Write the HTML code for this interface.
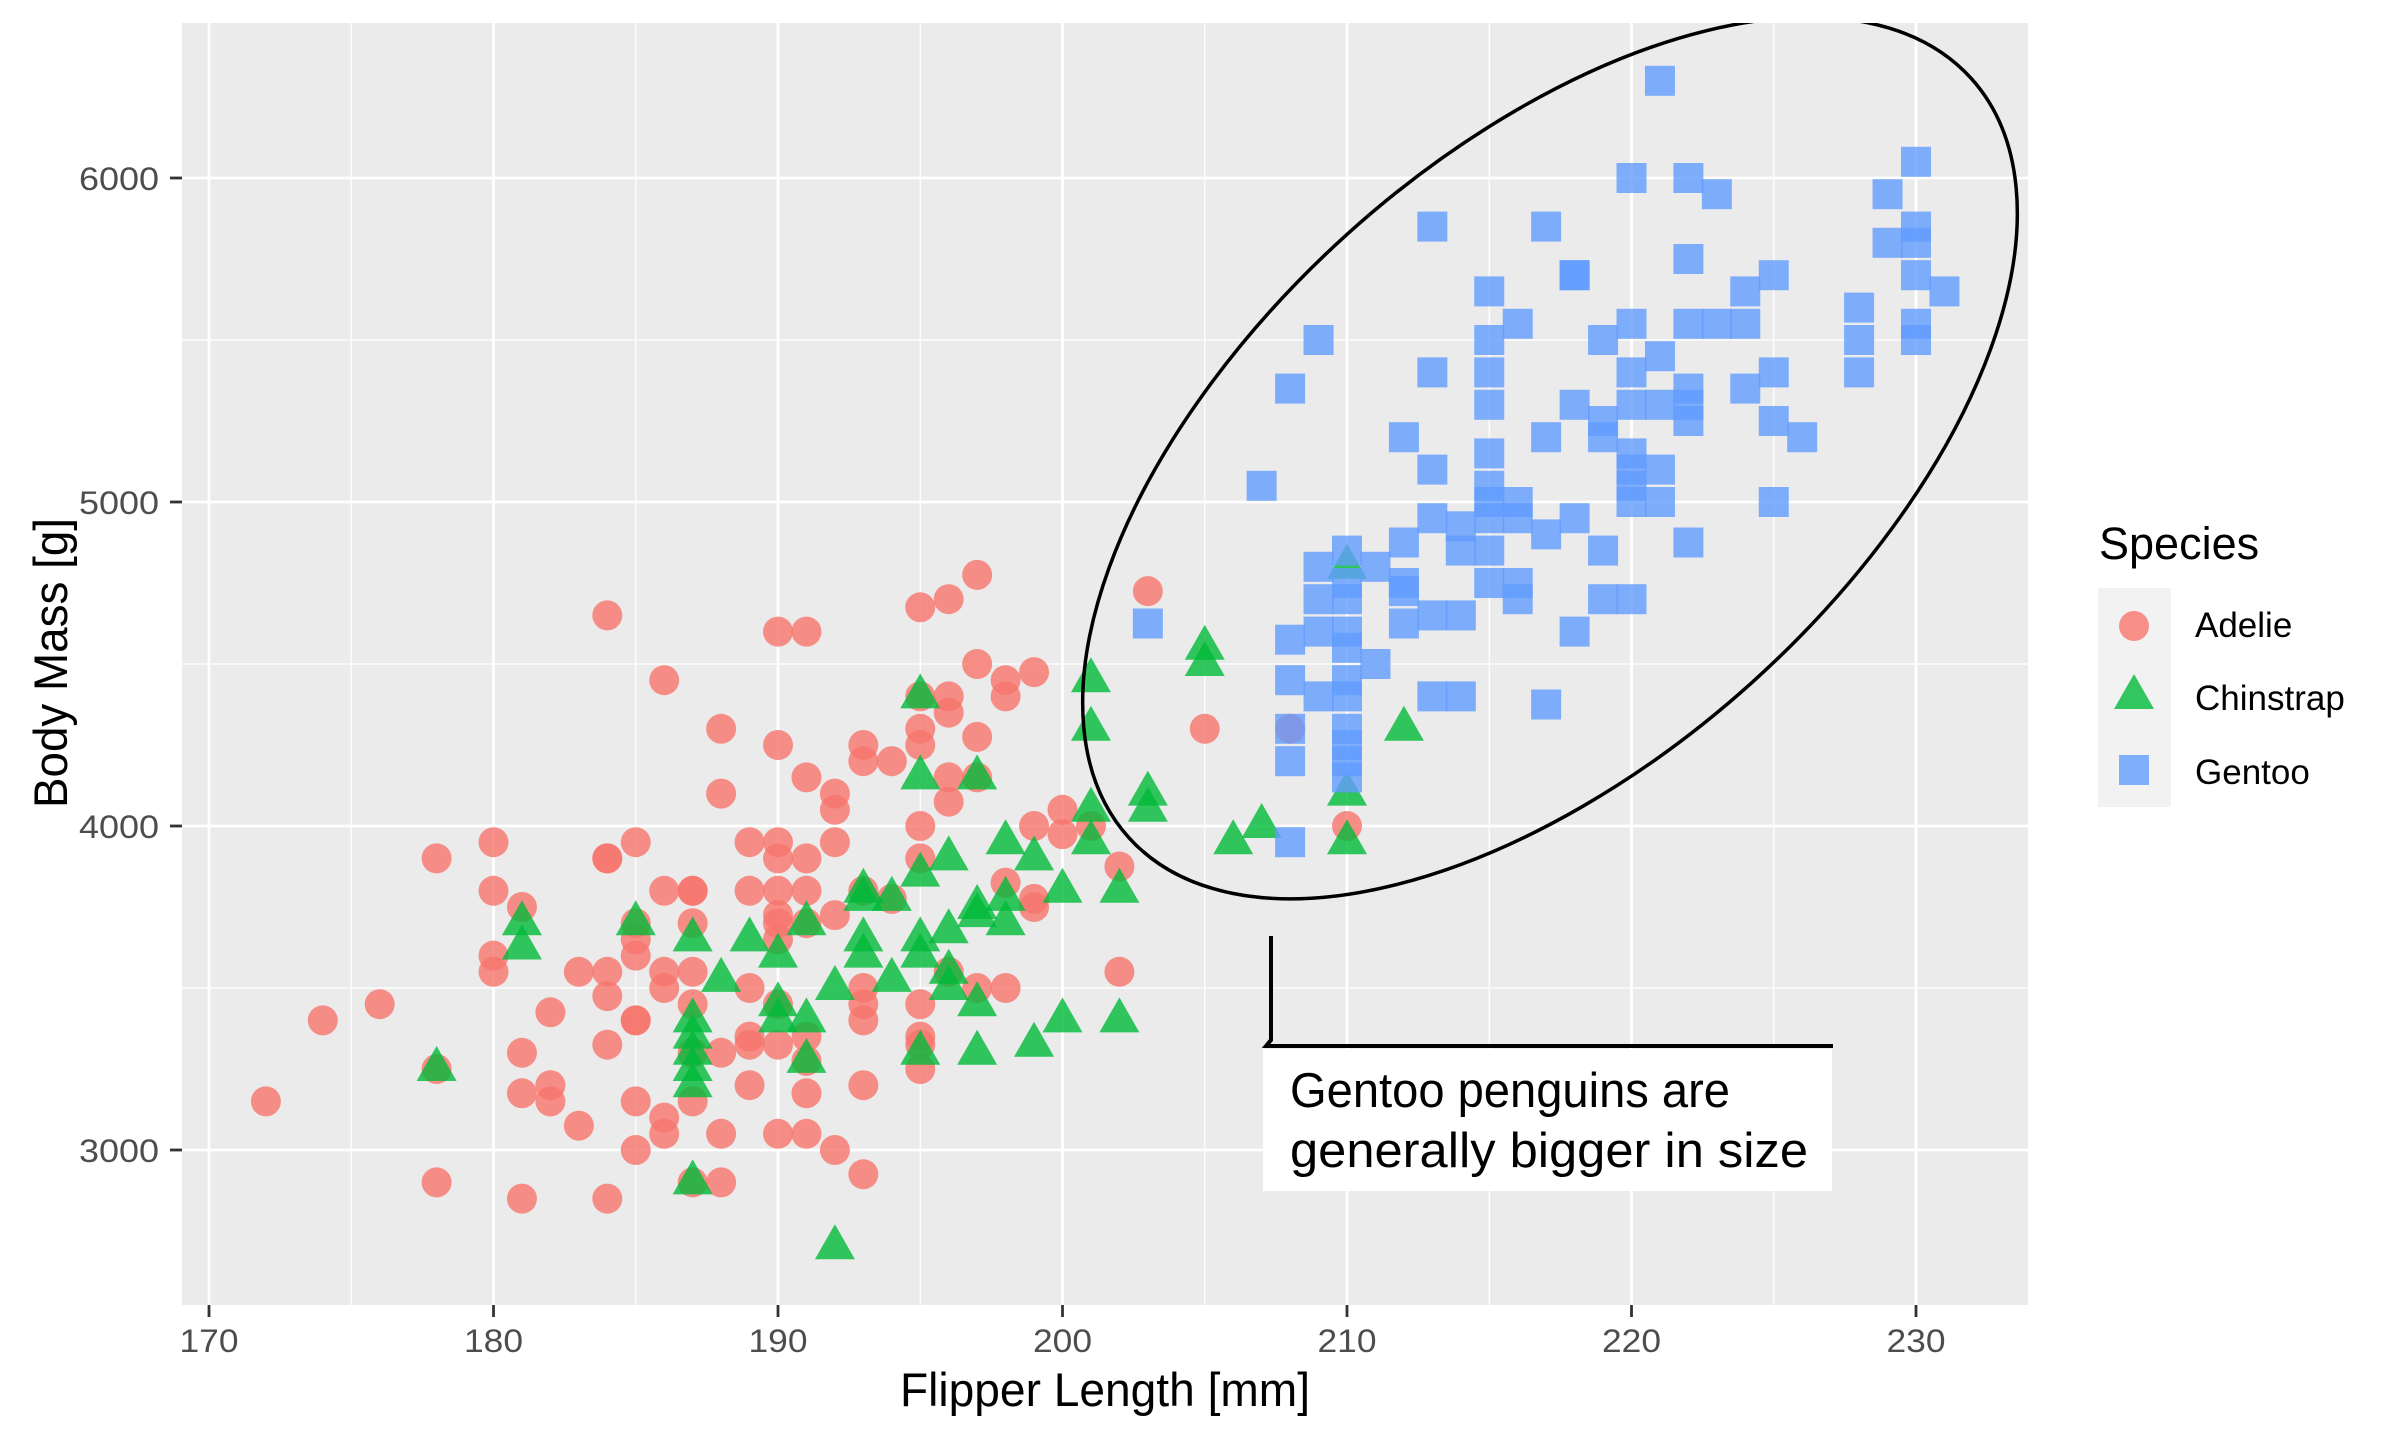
<!DOCTYPE html>
<html><head><meta charset="utf-8"><style>html,body{margin:0;padding:0;background:#fff}svg{display:block}text{font-family:"Liberation Sans",sans-serif}</style></head>
<body>
<svg id="s" width="2400" height="1439" viewBox="0 0 2400 1439" xmlns="http://www.w3.org/2000/svg">
<defs><clipPath id="cp"><rect x="182" y="23" width="1846" height="1282"/></clipPath></defs>
<rect x="182" y="23" width="1846" height="1282" fill="#EBEBEB"/>
<g id="grid"></g>
<g id="pts" clip-path="url(#cp)"></g>
<g clip-path="url(#cp)"><ellipse cx="1550" cy="458" rx="567" ry="302" transform="rotate(-42 1550 458)" fill="none" stroke="#000" stroke-width="3.5"/></g>
<path d="M1271 936 L1271 1040 L1266 1046 L1833 1046" fill="none" stroke="#000" stroke-width="4"/>
<rect x="1263" y="1049" width="569" height="142" fill="#fff"/>
<text x="1290" y="1107" font-size="49" fill="#000" textLength="440" lengthAdjust="spacingAndGlyphs">Gentoo penguins are</text>
<text x="1290" y="1167" font-size="49" fill="#000" textLength="518" lengthAdjust="spacingAndGlyphs">generally bigger in size</text>
<g id="axes"></g>
<text x="900" y="1406" font-size="47" fill="#000" textLength="410" lengthAdjust="spacingAndGlyphs">Flipper Length [mm]</text>
<text transform="translate(67 808) rotate(-90)" font-size="47" fill="#000" textLength="290" lengthAdjust="spacingAndGlyphs">Body Mass [g]</text>
<text x="2099" y="559" font-size="45" fill="#000">Species</text>
<rect x="2098" y="588" width="73" height="219" fill="#F2F2F2"/>
<circle cx="2134" cy="626" r="15" fill="#F8766D" fill-opacity="0.8"/>
<polygon points="2134,674 2114,709 2154,709" fill="#00BA38" fill-opacity="0.8"/>
<rect x="2119" y="755" width="30" height="30" fill="#619CFF" fill-opacity="0.8"/>
<text x="2195" y="637" font-size="35" fill="#000">Adelie</text>
<text x="2195" y="710" font-size="35" fill="#000">Chinstrap</text>
<text x="2195" y="784" font-size="35" fill="#000">Gentoo</text>
</svg>
<script>
var NS="http://www.w3.org/2000/svg";
function X(v){return 209+(v-170)*28.45;}
function Y(v){return 178+(6000-v)*0.324;}
function el(p,t,a){var e=document.createElementNS(NS,t);for(var k in a)e.setAttribute(k,a[k]);p.appendChild(e);return e;}
var g=document.getElementById('grid'),ax=document.getElementById('axes'),pts=document.getElementById('pts');
for(var v=175;v<=235;v+=10){var x=X(v);if(x<2028)el(g,'line',{x1:x,x2:x,y1:23,y2:1305,stroke:'#fff','stroke-width':1.3});}
for(var v=2500;v<=6500;v+=1000){var y=Y(v);if(y>23&&y<1305)el(g,'line',{x1:182,x2:2028,y1:y,y2:y,stroke:'#fff','stroke-width':1.3});}
for(var v=170;v<=230;v+=10){var x=X(v);el(g,'line',{x1:x,x2:x,y1:23,y2:1305,stroke:'#fff','stroke-width':2.8});
el(ax,'line',{x1:x,x2:x,y1:1305,y2:1317,stroke:'#333','stroke-width':2.8});
var t=el(ax,'text',{x:x-29.5,y:1352,'font-size':32,fill:'#4D4D4D',textLength:59,lengthAdjust:'spacingAndGlyphs'});t.textContent=v;}
for(var v=3000;v<=6000;v+=1000){var y=Y(v);el(g,'line',{x1:182,x2:2028,y1:y,y2:y,stroke:'#fff','stroke-width':2.8});
el(ax,'line',{x1:170,x2:182,y1:y,y2:y,stroke:'#333','stroke-width':2.8});
var t=el(ax,'text',{x:79,y:y+12,'font-size':32,fill:'#4D4D4D',textLength:80,lengthAdjust:'spacingAndGlyphs'});t.textContent=v;}
var A=[[172,3150],[174,3400],[176,3450],[178,3900],[178,3250],[178,2900],[180,3950],[180,3800],[180,3600],[180,3550],[181,3750],[181,3300],[181,3175],[181,2850],[182,3425],[182,3200],[182,3150],[183,3550],[183,3075],[184,4650],[184,3900],[184,3900],[184,3550],[184,3475],[184,3325],[184,2850],[185,3950],[185,3700],[185,3650],[185,3600],[185,3400],[185,3400],[185,3150],[185,3000],[186,4450],[186,3800],[186,3550],[186,3500],[186,3100],[186,3050],[187,3800],[187,3800],[187,3700],[187,3550],[187,3450],[187,3300],[187,3150],[187,2900],[188,4300],[188,4100],[188,3300],[188,3050],[188,2900],[189,3950],[189,3800],[189,3500],[189,3350],[189,3325],[189,3200],[190,4600],[190,4250],[190,3950],[190,3900],[190,3800],[190,3725],[190,3700],[190,3650],[190,3450],[190,3325],[190,3050],[191,4600],[191,4150],[191,3900],[191,3800],[191,3700],[191,3350],[191,3275],[191,3175],[191,3050],[192,4100],[192,4050],[192,3950],[192,3725],[192,3000],[193,4250],[193,4200],[193,3800],[193,3500],[193,3450],[193,3400],[193,3200],[193,2925],[194,4200],[194,3775],[195,4675],[195,4400],[195,4300],[195,4250],[195,4000],[195,3900],[195,3450],[195,3350],[195,3325],[195,3250],[196,4700],[196,4350],[196,4400],[196,4150],[196,4075],[196,3550],[197,4775],[197,4500],[197,4275],[197,4150],[197,3500],[198,4450],[198,4400],[198,3825],[198,3500],[199,4475],[199,4000],[199,3750],[199,3775],[200,4050],[200,3975],[201,4000],[202,3875],[202,3550],[203,4725],[205,4300],[208,4300],[210,4000]];
var C=[[178,3250],[181,3700],[181,3625],[185,3700],[187,3650],[187,3350],[187,3250],[187,3300],[187,3200],[187,2900],[187,3400],[188,3525],[189,3650],[190,3450],[190,3600],[190,3400],[191,3700],[191,3400],[191,3275],[192,3500],[192,2700],[193,3800],[193,3775],[193,3650],[193,3600],[194,3525],[194,3775],[195,4400],[195,4150],[195,3850],[195,3650],[195,3600],[195,3300],[196,3900],[196,3675],[196,3550],[196,3500],[197,4150],[197,3750],[197,3725],[197,3450],[197,3300],[198,3950],[198,3775],[198,3700],[199,3900],[199,3325],[200,3800],[200,3400],[201,4450],[201,4300],[201,4050],[201,3950],[202,3800],[202,3400],[203,4100],[203,4050],[205,4550],[205,4500],[206,3950],[207,4000],[210,4800],[210,4100],[210,3950],[212,4300]];
var G=[[203,4625],[207,5050],[208,5350],[208,4575],[208,4450],[208,4300],[208,4200],[208,3950],[209,5500],[209,4800],[209,4700],[209,4600],[209,4400],[210,4850],[210,4750],[210,4700],[210,4600],[210,4550],[210,4450],[210,4400],[210,4300],[210,4250],[210,4200],[210,4150],[211,4800],[211,4500],[212,5200],[212,4875],[212,4750],[212,4725],[212,4625],[213,5850],[213,5400],[213,5100],[213,4950],[213,4650],[213,4400],[214,4925],[214,4850],[214,4650],[214,4400],[215,5650],[215,5500],[215,5400],[215,5300],[215,5150],[215,5050],[215,5000],[215,4950],[215,4850],[215,4750],[216,5550],[216,5000],[216,4950],[216,4750],[216,4700],[217,5850],[217,5200],[217,4900],[217,4375],[218,5700],[218,5700],[218,5300],[218,4950],[218,4600],[219,5500],[219,5250],[219,5200],[219,4850],[219,4700],[220,6000],[220,5550],[220,5400],[220,5300],[220,5150],[220,5100],[220,5050],[220,5000],[220,4700],[221,6300],[221,5450],[221,5300],[221,5100],[221,5000],[222,6000],[222,5750],[222,5550],[222,5350],[222,5300],[222,5250],[222,4875],[223,5950],[223,5550],[224,5650],[224,5550],[224,5350],[225,5700],[225,5400],[225,5250],[225,5000],[226,5200],[228,5600],[228,5500],[228,5400],[229,5950],[229,5800],[230,6050],[230,5850],[230,5800],[230,5700],[230,5550],[230,5500],[231,5650]];
A.forEach(function(p){el(pts,'circle',{cx:X(p[0]),cy:Y(p[1]),r:15,fill:'#F8766D','fill-opacity':0.8});});
C.forEach(function(p){var x=X(p[0]),y=Y(p[1]);el(pts,'polygon',{points:x+','+(y-23)+' '+(x-20)+','+(y+12)+' '+(x+20)+','+(y+12),fill:'#00BA38','fill-opacity':0.8});});
G.forEach(function(p){el(pts,'rect',{x:X(p[0])-15,y:Y(p[1])-15,width:30,height:30,fill:'#619CFF','fill-opacity':0.8});});
</script>
</body></html>
